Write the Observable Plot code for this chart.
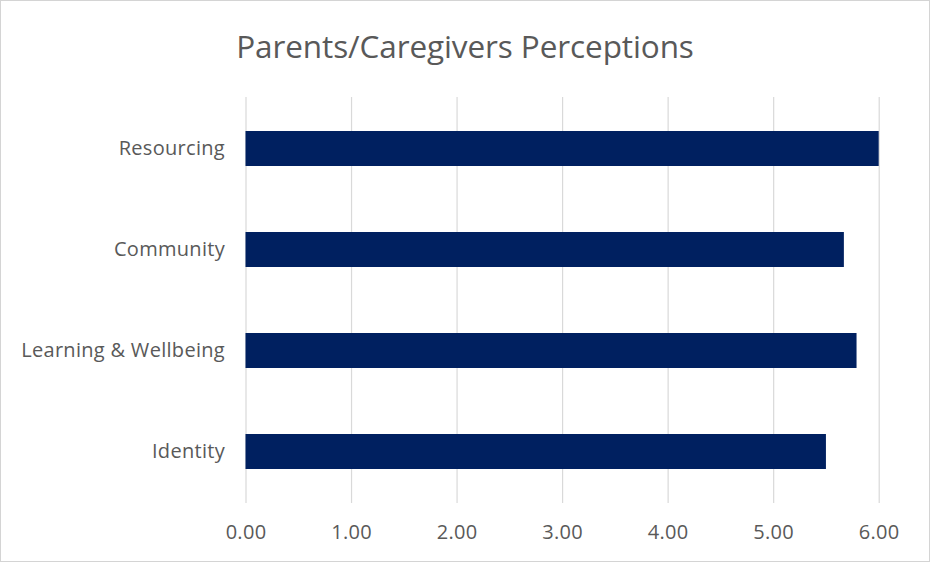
<!DOCTYPE html>
<html>
<head>
<meta charset="utf-8">
<script src="https://cdn.jsdelivr.net/npm/d3@7"></script>
<script src="https://cdn.jsdelivr.net/npm/@observablehq/plot@0.6"></script>
<style>
  html, body { margin: 0; padding: 0; background: #fff; }
  #frame {
    position: relative;
    width: 928px; height: 560px;
    border: 1px solid #d4d4d4;
    background: #fff;
    font-family: "Open Sans", Lato, sans-serif;
  }
  #title {
    height: 80px;
    line-height: 90px;
    text-align: center;
    font-size: 31.5px;
    color: #595959;
    white-space: nowrap;
    letter-spacing: -0.1px;
  }
  #chart svg { display: block; }
  #chart svg text { letter-spacing: 0.3px; }
</style>
</head>
<body>
<div id="frame">
  <div id="title">Parents/Caregivers Perceptions</div>
  <div id="chart"></div>
</div>
<script>
const categories = ["Resourcing", "Community", "Learning & Wellbeing", "Identity"];
const scores = [6.00, 5.67, 5.79, 5.50];
const xTicks = [0, 1, 2, 3, 4, 5, 6];

const data = categories.map((c, i) => ({category: c, score: scores[i]}));

const chart = Plot.plot({
  width: 928,
  height: 480,
  marginTop: 16,
  marginBottom: 58,
  marginLeft: 244.5,
  marginRight: 50.3,
  style: {fontFamily: "'Open Sans', Lato, sans-serif", fontSize: "20px", color: "#595959", background: "#fff"},
  x: {domain: [0, 6], ticks: xTicks, tickFormat: d => d.toFixed(2), tickSize: 0, tickPadding: 21, label: null, grid: false},
  y: {domain: categories, paddingInner: 0.65, paddingOuter: 0.325, tickSize: 0, tickPadding: 21, label: null},
  marks: [
    Plot.gridX(xTicks, {stroke: "#d9d9d9", strokeOpacity: 1, strokeWidth: 1.2}),
    Plot.barX(data, {x: "score", y: "category", fill: "#002060"})
  ]
});
document.getElementById("chart").appendChild(chart);
</script>
</body>
</html>
